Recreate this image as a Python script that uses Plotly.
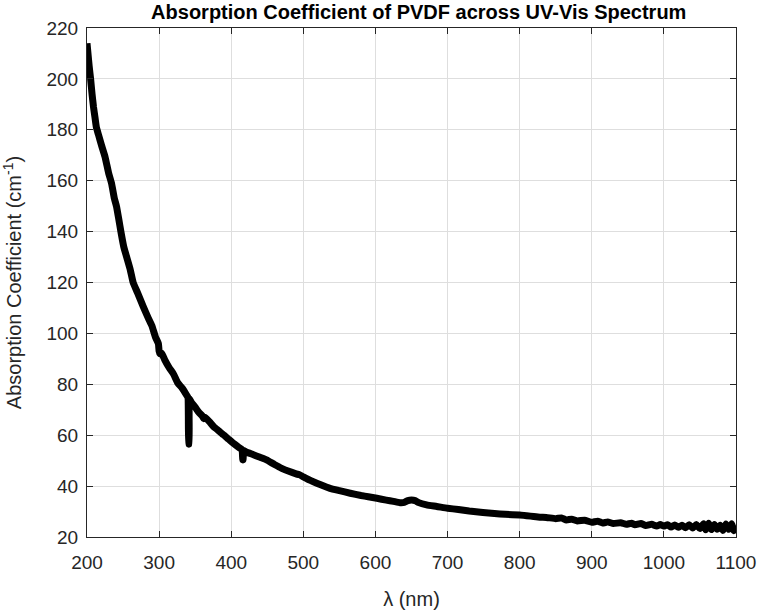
import plotly.graph_objects as go

wavelength_nm = [
    200, 201, 203, 205, 207, 209, 211, 213, 216, 220, 225, 230, 234, 238, 241, 244, 247,
    251, 255, 260, 264, 270, 278, 285, 290, 295, 299, 300, 301, 303.5, 308, 314, 320,
    326, 332, 338, 340, 341, 341.5, 342, 345, 350, 355, 360, 362, 364, 370, 377, 384,
    390, 396, 403, 410, 415, 416, 416.5, 417, 420, 430, 440, 449, 460, 470, 480, 490,
    495, 500, 507, 514, 525, 537, 550, 565, 580, 590, 602, 615, 625, 634, 640, 645,
    650, 655, 660, 671, 685, 700, 715, 730, 749, 765, 780, 800, 815, 828, 837, 850,
    858, 865, 872, 880, 890, 900, 908, 915, 922, 930, 940, 948, 955, 960, 968, 975,
    983, 990, 995, 1000, 1005, 1010, 1015, 1020, 1025, 1030, 1035, 1040, 1045, 1050,
    1055, 1058, 1062, 1066, 1070, 1074, 1078, 1082, 1086, 1090, 1094, 1097, 1100,
]

absorption_cm1 = [
    214, 211, 205, 200, 194, 189, 185, 181, 178, 174, 169.4, 163, 159, 153, 149.8, 145, 140,
    134, 130, 125, 120, 116, 110.5, 106, 103, 98.5, 96, 93, 92, 92.2, 89.5, 86.5, 84,
    80.5, 78.5, 75.8, 74.8, 56.5, 56.5, 74.3, 72.8, 71, 69, 67.5, 66.5, 67, 65.2, 63, 61.4,
    60, 58.5, 56.8, 55.3, 54.3, 50.3, 50.3, 54, 53.5, 52.4, 51.3, 50.3, 48.5, 47, 45.8, 44.8,
    44.4, 43.6, 42.6, 41.7, 40.4, 39.1, 38.2, 37.2, 36.3, 35.8, 35.2, 34.5, 34, 33.5, 33.6, 34.3,
    34.5, 34.3, 33.5, 32.6, 32, 31.3, 30.8, 30.2, 29.6, 29.2, 28.9, 28.6, 28.2, 27.8, 27.7, 27.2,
    27.5, 26.7, 27.0, 26.3, 26.6, 25.8, 26.2, 25.5, 25.9, 25.3, 25.6, 25.0, 25.4, 24.8, 25.3, 24.5,
    25.0, 24.3, 24.9, 24.3, 24.8, 23.9, 24.7, 23.8, 24.6, 23.6, 24.8, 23.5, 24.9, 23.3,
    25.2, 22.8, 25.4, 22.9, 24.9, 23.0, 24.6, 22.6, 25.1, 23.0, 25.2, 22.5, 24.5,
]

x_ticks = [200, 300, 400, 500, 600, 700, 800, 900, 1000, 1100]
y_ticks = [20, 40, 60, 80, 100, 120, 140, 160, 180, 200, 220]

FONT = "Liberation Sans, Arial, Helvetica, sans-serif"
TXT = "#262626"

fig = go.Figure()
fig.add_trace(go.Scatter(
    x=wavelength_nm, y=absorption_cm1, mode="lines",
    line=dict(color="black", width=7, shape="spline", smoothing=0.4),
    showlegend=False,
))

axis_common = dict(
    showline=True, linecolor=TXT, linewidth=1, mirror="ticks",
    ticks="inside", ticklen=6, tickcolor=TXT, tickwidth=1,
    showgrid=True, gridcolor="#dedede", gridwidth=1,
    zeroline=False, automargin=False, layer="above traces",
    tickfont=dict(family=FONT, size=19, color=TXT),
)

fig.update_layout(
    width=760, height=611,
    margin=dict(l=87, r=24, t=28, b=74),
    paper_bgcolor="white", plot_bgcolor="white",
    title=dict(
        text="<b>Absorption Coefficient of PVDF across UV-Vis Spectrum</b>",
        font=dict(family=FONT, size=20, color="black"),
        x=0.551, xanchor="center", y=0.981, yanchor="middle", automargin=False,
    ),
    xaxis=dict(
        range=[200, 1100], tickvals=x_ticks, ticktext=[str(v) for v in x_ticks],
        title=dict(text="λ (nm)", font=dict(family=FONT, size=20, color=TXT), standoff=20),
        ticklabelstandoff=8,
        **axis_common,
    ),
    yaxis=dict(
        range=[20, 220], tickvals=y_ticks, ticktext=[str(v) for v in y_ticks],
        title=dict(text="Absorption Coefficient (cm<sup>-1</sup>)", font=dict(family=FONT, size=20, color=TXT), standoff=20),
        ticklabelstandoff=4,
        **axis_common,
    ),
)

fig.write_html(
    "out.html",
    config={"displayModeBar": False},
    post_script="document.body.style.margin='0';document.body.style.overflow='hidden';",
)
